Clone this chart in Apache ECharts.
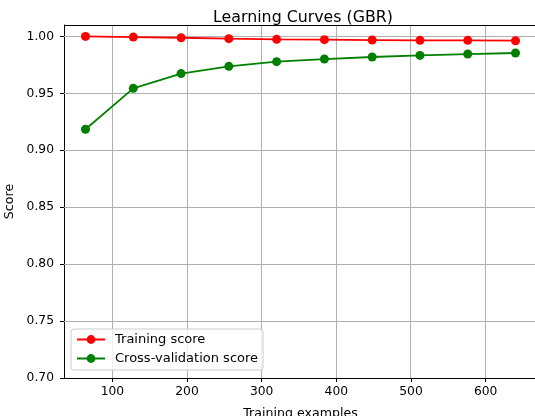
<!DOCTYPE html>
<html>
<head>
<meta charset="utf-8">
<script src="https://cdn.jsdelivr.net/npm/echarts@6/dist/echarts.min.js"></script>
<style>
  html, body { margin: 0; padding: 0; background: #fff; }
  #chart { width: 535px; height: 416px; }
</style>
</head>
<body>
<div id="chart"></div>
<script>
// Training set sizes used for the learning curve
const trainSizes = [64, 128, 192, 256, 320, 384, 448, 512, 576, 640];
// Mean scores per training size
const trainScores = [1.0000, 0.9994, 0.9988, 0.9980, 0.9974, 0.9971, 0.9968, 0.9965, 0.9965, 0.9962];
const cvScores = [0.9184, 0.9544, 0.9673, 0.9737, 0.9778, 0.9801, 0.9819, 0.9833, 0.9845, 0.9854];
// Tick positions
const xTicks = [100, 200, 300, 400, 500, 600];
const yTicks = [0.70, 0.75, 0.80, 0.85, 0.90, 0.95, 1.00];

const font = 'DejaVu Sans';
const chart = echarts.init(document.getElementById('chart'), null, { renderer: 'canvas' });

const pairs = (xs, ys) => xs.map((x, i) => [x, ys[i]]);
const X_MIN = 35.2, X_MAX = 668.8, Y_MIN = 0.70, Y_MAX = 1.01;
const crisp = v => Math.round(v - 0.5) + 0.5;

// straight segment between two data points, snapped to the pixel grid
function segment(api, a, b, color) {
  const p0 = api.coord(a), p1 = api.coord(b);
  const vertical = a[0] === b[0];
  return {
    type: 'line',
    shape: vertical
      ? { x1: crisp(p0[0]), y1: p0[1], x2: crisp(p1[0]), y2: p1[1] }
      : { x1: p0[0], y1: crisp(p0[1]), x2: p1[0], y2: crisp(p1[1]) },
    style: { stroke: color, lineWidth: 1 }
  };
}

chart.setOption({
  animation: false,
  backgroundColor: '#ffffff',
  textStyle: { fontFamily: font },
  title: {
    text: 'Learning Curves (GBR)',
    left: 298, top: 5, textAlign: 'center',
    textStyle: { fontFamily: font, fontSize: 15.8, fontWeight: 'normal', color: '#000' }
  },
  grid: { left: 64, top: 25, width: 473, height: 353, show: false, containLabel: false, outerBoundsMode: 'none' },
  legend: {
    left: 71, top: 329, orient: 'vertical',
    itemWidth: 28, itemHeight: 11, itemGap: 6,
    padding: [4, 5, 5, 5],
    borderColor: '#cccccc', borderWidth: 1, borderRadius: 3,
    backgroundColor: 'rgba(255,255,255,0.8)',
    textStyle: { fontFamily: font, fontSize: 13, color: '#000', padding: [0, 0, 0, 5] },
    data: ['Training score', 'Cross-validation score']
  },
  xAxis: {
    type: 'value', min: X_MIN, max: X_MAX,
    name: 'Training examples', nameLocation: 'middle', nameGap: 29,
    nameTextStyle: { fontFamily: font, fontSize: 12.6, color: '#000' },
    axisLine: { show: true, onZero: false, lineStyle: { color: '#000', width: 1 } },
    axisTick: { show: true, length: 4, customValues: xTicks, lineStyle: { color: '#000' } },
    axisLabel: { customValues: xTicks, fontFamily: font, fontSize: 12.3, color: '#000', margin: 8 },
    splitLine: { show: false }
  },
  yAxis: {
    type: 'value', min: Y_MIN, max: Y_MAX,
    name: 'Score', nameLocation: 'middle', nameGap: 41, nameRotate: 90,
    nameTextStyle: { fontFamily: font, fontSize: 12.6, color: '#000' },
    axisLine: { show: true, lineStyle: { color: '#000', width: 1 } },
    axisTick: { show: true, length: 4, customValues: yTicks, lineStyle: { color: '#000' } },
    axisLabel: { customValues: yTicks, fontFamily: font, fontSize: 12.3, color: '#000', margin: 10,
      formatter: v => v.toFixed(2) },
    splitLine: { show: false }
  },
  series: [
    {
      // vertical grid lines
      type: 'custom', silent: true, z: 1,
      data: xTicks.map(v => [v, Y_MIN]),
      encode: { x: 0, y: 1 },
      renderItem: (params, api) => segment(api, [api.value(0), Y_MIN], [api.value(0), Y_MAX], '#b0b0b0')
    },
    {
      // horizontal grid lines
      type: 'custom', silent: true, z: 1,
      data: yTicks.slice(1).map(v => [X_MIN, v]),
      encode: { x: 0, y: 1 },
      renderItem: (params, api) => segment(api, [X_MIN, api.value(1)], [X_MAX, api.value(1)], '#b0b0b0')
    },
    {
      // top frame line
      type: 'custom', silent: true, z: 4,
      data: [[X_MIN, Y_MAX]],
      encode: { x: 0, y: 1 },
      renderItem: (params, api) => segment(api, [X_MIN, Y_MAX], [X_MAX, Y_MAX], '#000')
    },
    {
      name: 'Training score', type: 'line',
      data: pairs(trainSizes, trainScores),
      color: '#ff0000',
      lineStyle: { width: 1.8, color: '#ff0000' },
      symbol: 'circle', symbolSize: 9,
      itemStyle: { color: '#ff0000' },
      z: 3
    },
    {
      name: 'Cross-validation score', type: 'line',
      data: pairs(trainSizes, cvScores),
      color: '#008000',
      lineStyle: { width: 1.8, color: '#008000' },
      symbol: 'circle', symbolSize: 9,
      itemStyle: { color: '#008000' },
      z: 3
    }
  ]
});
</script>
</body>
</html>
